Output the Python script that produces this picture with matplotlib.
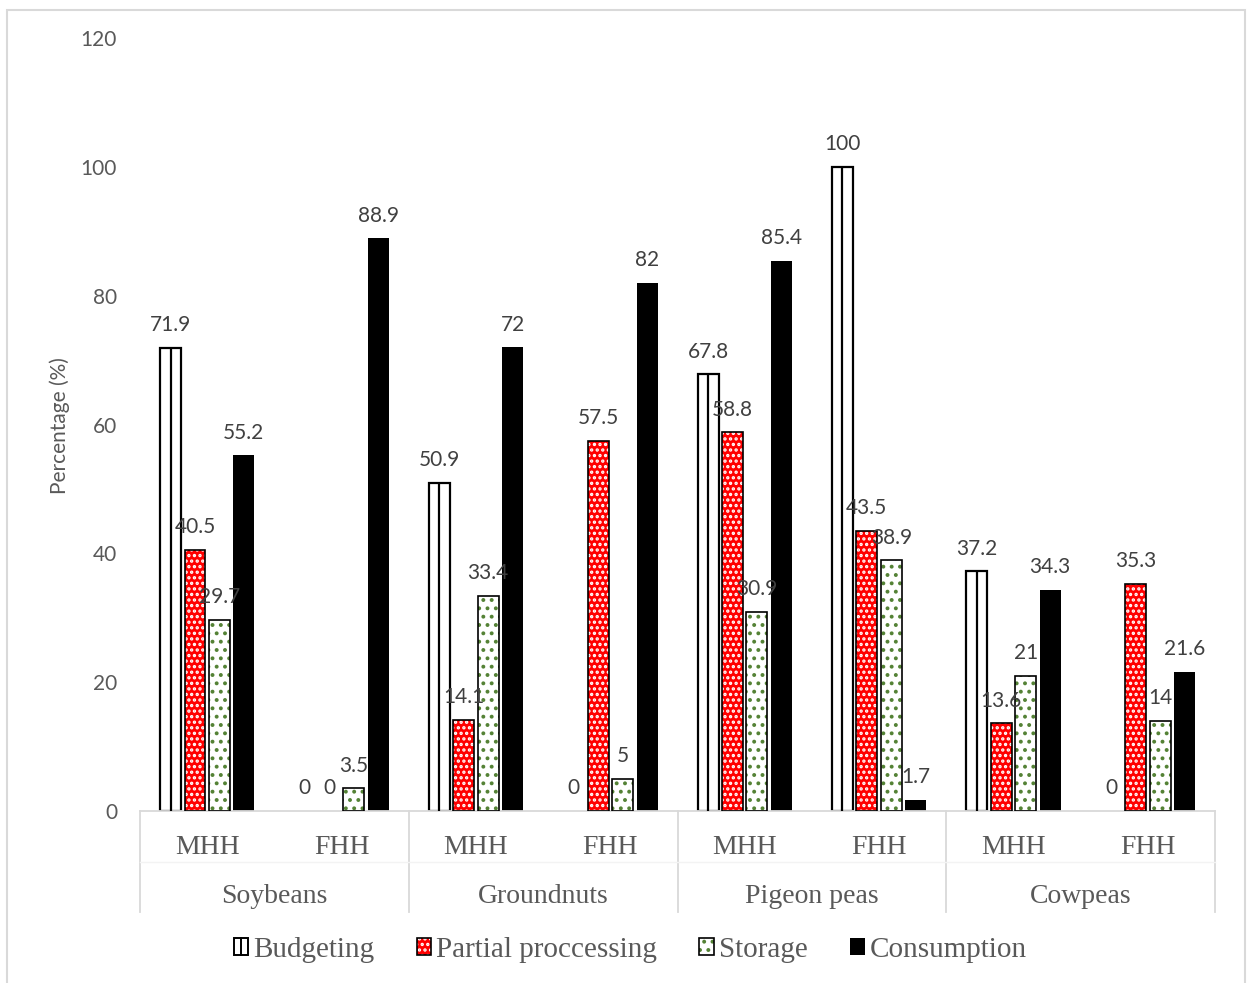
import numpy as np
import matplotlib.pyplot as plt
import matplotlib.transforms as mtransforms
from matplotlib.patches import Rectangle, Patch
from matplotlib.lines import Line2D
from matplotlib.legend_handler import HandlerBase, HandlerTuple

crops = ['Soybeans', 'Groundnuts', 'Pigeon peas', 'Cowpeas']
heads = ['MHH', 'FHH']

# one value per crop/household pair, ordered Soybeans MHH, Soybeans FHH, ...
budgeting = [71.9, 0, 50.9, 0, 67.8, 100, 37.2, 0]
partial = [40.5, 0, 14.1, 57.5, 58.8, 43.5, 13.6, 35.3]
storage = [29.7, 3.5, 33.4, 5, 30.9, 38.9, 21, 14]
consumption = [55.2, 88.9, 72, 82, 85.4, 1.7, 34.3, 21.6]

RED = '#ff0000'
GREEN = '#548235'
GRID = '#d9d9d9'
TICK = '#595959'
LABEL = '#404040'
SANS = 'Lato'
SERIF = 'Liberation Serif'

plt.rcParams['hatch.linewidth'] = 1.6

fig = plt.figure(figsize=(12.48, 9.83), dpi=100)
ax = fig.add_axes([0.1122, 0.175, 0.8614, 0.7863])

x = np.arange(len(crops) * len(heads))
step = 0.182
w = 0.156


def edges(vals, color):
    return [color if v > 0 else 'none' for v in vals]


# Budgeting: white bar with a centre stripe
xb = x - 1.5 * step
ax.bar(xb, budgeting, w, color='white', edgecolor=edges(budgeting, 'black'),
       linewidth=1.6, zorder=2)
ax.vlines(xb, 0, budgeting, color='black', lw=1.6, zorder=3)

# Partial processing: red with white dots
xp = x - 0.5 * step
ax.bar(xp, partial, w, color=RED, edgecolor='white', linewidth=0,
       hatch='...', zorder=2)
ax.bar(xp, partial, w, fill=False, edgecolor=edges(partial, 'black'),
       linewidth=1.2, zorder=3)

# Storage: white with green dots
xs = x + 0.5 * step
ax.bar(xs, storage, w, color='white', edgecolor=GREEN, linewidth=0,
       hatch='..', zorder=2)
ax.bar(xs, storage, w, fill=False, edgecolor=edges(storage, 'black'),
       linewidth=1.2, zorder=3)

# Consumption: solid black
xc = x + 1.5 * step
ax.bar(xc, consumption, w, color='black', zorder=2)

for pos, vals in [(xb, budgeting), (xp, partial), (xs, storage), (xc, consumption)]:
    for xi, v in zip(pos, vals):
        ax.annotate(f'{v:g}', (xi, v), xytext=(0, 12), textcoords='offset points',
                    ha='center', va='baseline', fontsize=15, color=LABEL,
                    family=SANS, zorder=4)

ax.set_xlim(-0.5, 7.5)
ax.set_ylim(0, 120)
ax.set_yticks(np.arange(0, 121, 20))
ax.set_xticks([])
ax.tick_params(axis='y', length=0, pad=16.5, labelsize=15, labelcolor=TICK)
for lbl in ax.get_yticklabels():
    lbl.set_family(SANS)
for s in ['left', 'right', 'top']:
    ax.spines[s].set_visible(False)
ax.spines['bottom'].set_color(GRID)
ax.spines['bottom'].set_linewidth(1.3)

# two-level category axis
trans = mtransforms.blended_transform_factory(ax.transData, ax.transAxes)
for i in range(len(crops) + 1):
    xv = -0.5 + 2 * i
    ax.plot([xv, xv], [0, -0.1307], color=GRID, lw=1.3, transform=trans,
            clip_on=False)
ax.plot([-0.5, 7.5], [-0.066, -0.066], color='#f3f3f3', lw=1.0,
        transform=trans, clip_on=False)
for i, xi in enumerate(x):
    ax.text(xi, -0.0556, heads[i % 2], transform=trans, ha='center',
            va='baseline', fontsize=20, color=TICK, family=SERIF)
for j, crop in enumerate(crops):
    ax.text(2 * j + 0.5, -0.119, crop, transform=trans, ha='center',
            va='baseline', fontsize=20, color=TICK, family=SERIF)

fig.text(60 / 1248, 1 - 426 / 983, 'Percentage (%)', rotation=90,
         ha='center', va='center', fontsize=15, color=TICK, family=SANS)

# outer chart border
fig.patches.append(Rectangle((7 / 1248, -0.02), 1238 / 1248, 1 - 10 / 983 + 0.02,
                             transform=fig.transFigure, fill=False,
                             edgecolor=GRID, linewidth=1.5))


class StripeBox(HandlerBase):
    def create_artists(self, legend, orig_handle, xdescent, ydescent, width,
                       height, fontsize, trans):
        box = Rectangle((-xdescent, -ydescent), width, height, facecolor='white',
                        edgecolor='black', linewidth=1.4, transform=trans)
        mid = Line2D([-xdescent + width / 2] * 2, [-ydescent, -ydescent + height],
                     color='black', lw=1.4, transform=trans)
        return [box, mid]


h_budget = Patch(facecolor='white', edgecolor='black')
h_partial = (Patch(facecolor=RED, edgecolor='white', linewidth=0, hatch='...'),
             Patch(fill=False, edgecolor='black', linewidth=1.2))
h_storage = (Patch(facecolor='white', edgecolor=GREEN, linewidth=0, hatch='..'),
             Patch(fill=False, edgecolor='black', linewidth=1.2))
h_cons = Patch(facecolor='black')

leg = fig.legend([h_budget, h_partial, h_storage, h_cons],
                 ['Budgeting', 'Partial proccessing', 'Storage', 'Consumption'],
                 handler_map={h_budget: StripeBox(), tuple: HandlerTuple(ndivide=1)},
                 loc='center', bbox_to_anchor=(0.505, 1 - 950 / 983), ncol=4,
                 frameon=False, handlelength=0.5, handleheight=0.5,
                 handletextpad=0.17, columnspacing=1.45,
                 prop={'family': SERIF, 'size': 21})
for t in leg.get_texts():
    t.set_color(TICK)

fig.savefig('out.png', dpi=100)
